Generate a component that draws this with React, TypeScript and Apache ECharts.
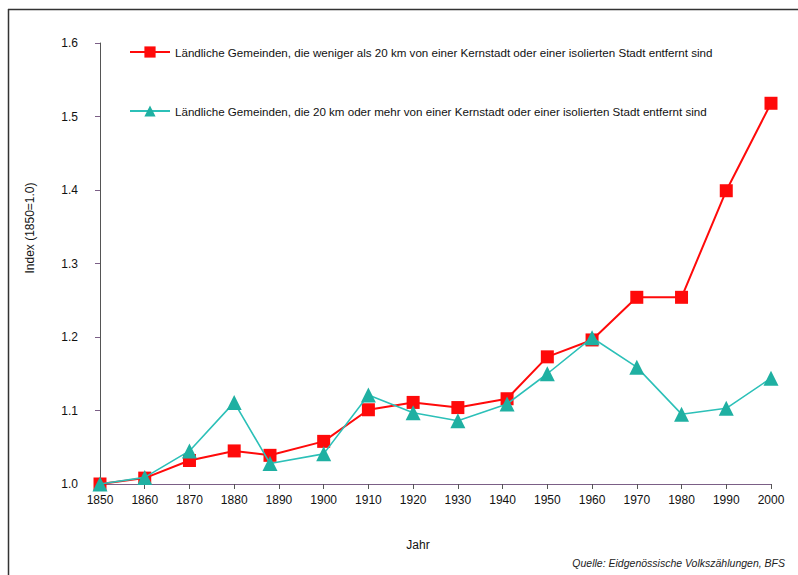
import React, { useEffect, useRef } from "react";
import * as echarts from "echarts";

const years = [1850, 1860, 1870, 1880, 1888, 1900, 1910, 1920, 1930, 1941, 1950, 1960, 1970, 1980, 1990, 2000];
const nearValues = [1.0, 1.008, 1.032, 1.045, 1.039, 1.058, 1.101, 1.111, 1.104, 1.116, 1.173, 1.196, 1.254, 1.254, 1.399, 1.518];
const farValues = [1.0, 1.009, 1.045, 1.111, 1.028, 1.041, 1.121, 1.097, 1.086, 1.109, 1.15, 1.199, 1.159, 1.095, 1.103, 1.144];
const nearName = "Ländliche Gemeinden, die weniger als 20 km von einer Kernstadt oder einer isolierten Stadt entfernt sind";
const farName = "Ländliche Gemeinden, die 20 km oder mehr von einer Kernstadt oder einer isolierten Stadt entfernt sind";
const yTitle = "Index (1850=1.0)";
const xTitle = "Jahr";
const sourceText = "Quelle: Eidgenössische Volkszählungen, BFS";

const FONT = "'Liberation Sans', Arial, sans-serif";

export default function App() {
  const ref = useRef<HTMLDivElement>(null);
  useEffect(() => {
    document.body.style.margin = "0";
    const chart = echarts.init(ref.current!, null, { renderer: "svg" });
    chart.setOption({
      animation: false,
      backgroundColor: "#ffffff",
      textStyle: { fontFamily: FONT },
      grid: { left: 100, right: 27, top: 43, bottom: 91 },
      legend: {
        orient: "vertical",
        left: 129,
        top: 46,
        padding: 0,
        itemGap: 47,
        itemWidth: 40,
        itemHeight: 14,
        textStyle: { fontFamily: FONT, fontSize: 11.6, color: "#111" },
        data: [nearName, farName],
      },
      xAxis: {
        type: "value",
        min: 1850,
        max: 2000,
        interval: 10,
        axisLine: { show: true, lineStyle: { color: "#7b5f86", width: 1 } },
        axisTick: { show: true, length: 5, lineStyle: { color: "#555" } },
        axisLabel: { color: "#111", fontSize: 12, fontFamily: FONT, margin: 10, formatter: (v: number) => String(v) },
        splitLine: { show: false },
      },
      yAxis: {
        type: "value",
        min: 1.0,
        max: 1.6,
        interval: 0.1,
        axisLine: { show: true, lineStyle: { color: "#555", width: 1 } },
        axisTick: { show: true, length: 5, lineStyle: { color: "#7b5f86" } },
        axisLabel: { color: "#111", fontSize: 12, fontFamily: FONT, margin: 22, formatter: (v: number) => v.toFixed(1) },
        splitLine: { show: false },
      },
      series: [
        {
          name: nearName,
          type: "line",
          data: years.map((y, i) => [y, nearValues[i]]),
          symbol: "rect",
          symbolSize: 13,
          itemStyle: { color: "#ff0a0a" },
          lineStyle: { color: "#ff0a0a", width: 2 },
          z: 2,
        },
        {
          name: farName,
          type: "line",
          data: years.map((y, i) => [y, farValues[i]]),
          symbol: "triangle",
          symbolSize: 15,
          itemStyle: { color: "#1fb0a2" },
          lineStyle: { color: "#2cc0b8", width: 1.6 },
          z: 3,
        },
      ],
      graphic: [
        { type: "line", shape: { x1: 8, y1: 9.5, x2: 798, y2: 9.5 }, style: { stroke: "#333", lineWidth: 1.5 } },
        { type: "line", shape: { x1: 8.5, y1: 9, x2: 8.5, y2: 575 }, style: { stroke: "#333", lineWidth: 1.5 } },
        {
          type: "text",
          x: 30,
          y: 228,
          rotation: Math.PI / 2,
          style: { text: yTitle, fontFamily: FONT, fontSize: 12, fill: "#111", align: "center", verticalAlign: "middle" },
        },
        {
          type: "text",
          x: 418,
          y: 545,
          style: { text: xTitle, fontFamily: FONT, fontSize: 12, fill: "#111", align: "center", verticalAlign: "middle" },
        },
        {
          type: "text",
          x: 785,
          y: 563,
          style: { text: sourceText, fontFamily: FONT, fontSize: 10.5, fontStyle: "italic", fill: "#222", align: "right", verticalAlign: "middle" },
        },
      ],
    });
    return () => chart.dispose();
  }, []);
  return <div ref={ref} style={{ width: 798, height: 575 }} />;
}
